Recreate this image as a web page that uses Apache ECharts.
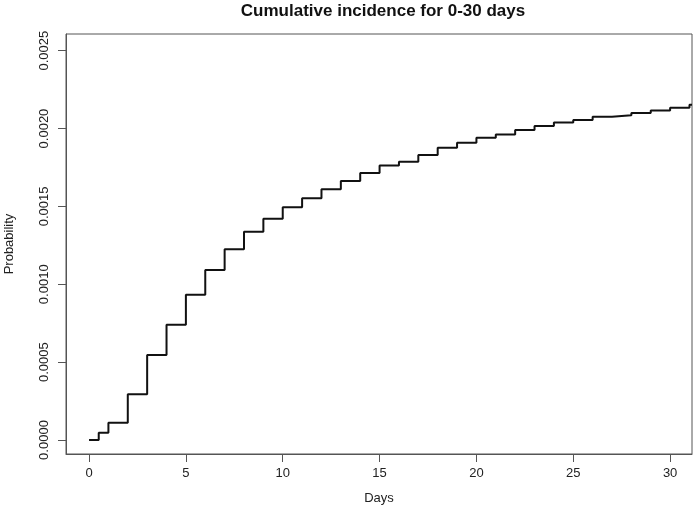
<!DOCTYPE html>
<html>
<head>
<meta charset="utf-8">
<script src="https://cdn.jsdelivr.net/npm/echarts@6/dist/echarts.min.js"></script>
<style>
  html, body { margin: 0; padding: 0; background: #fff; }
  #chart { width: 695px; height: 510px; }
</style>
</head>
<body>
<div id="chart"></div>
<script>
// step times (days) and cumulative incidence after each jump
const days = [0, 0.5, 1, 2, 3, 4, 5, 6, 7, 8, 9, 10, 11, 12, 13, 14, 15, 16,
  17, 18, 19, 20, 21, 22, 23, 24, 25, 26, 27, 28, 29, 30, 31]
const incidence = [0, 0.000047, 0.000111, 0.000293, 0.000546, 0.00074, 0.000933,
  0.001092, 0.001225, 0.001338, 0.001421, 0.001494, 0.001552, 0.00161, 0.001663,
  0.001715, 0.001762, 0.001787, 0.00183, 0.001877, 0.001909, 0.001941, 0.001961,
  0.001991, 0.002016, 0.002038, 0.002055, 0.002076, 0.002085, 0.0021, 0.002115,
  0.002134, 0.002153]
const xTicks = [0, 5, 10, 15, 20, 25, 30]
const yTicks = [0, 0.0005, 0.001, 0.0015, 0.002, 0.0025]

const xMin = -1.19, xMax = 31.13
const yMin = -0.0000899, yMax = 0.002607

const font = 'Liberation Sans, Arial, sans-serif'
const axisColor = '#555'

const points = days.map((d, i) => [d, incidence[i]])
// carry the last level out to the plot edge
points.push([xMax, incidence[incidence.length - 1]])

const chart = echarts.init(document.getElementById('chart'), null, {renderer: 'canvas'})
chart.setOption({
  animation: false,
  backgroundColor: '#fff',
  title: {
    text: 'Cumulative incidence for 0-30 days',
    left: 378,
    top: -2,
    textAlign: 'center',
    textStyle: {fontFamily: font, fontSize: 17, fontWeight: 'bold', color: '#111'},
  },
  grid: {
    left: 66, right: 3, top: 34, bottom: 56,
    outerBoundsMode: 'none',
    containLabel: false,
    show: true,
    borderColor: axisColor,
    borderWidth: 1,
  },
  xAxis: {
    type: 'value',
    min: xMin,
    max: xMax,
    name: 'Days',
    nameLocation: 'middle',
    nameGap: 38,
    nameTextStyle: {fontFamily: font, fontSize: 13, color: '#222'},
    axisLine: {show: true, onZero: false, lineStyle: {color: axisColor}},
    axisTick: {show: true, length: 8, customValues: xTicks, lineStyle: {color: axisColor}},
    axisLabel: {customValues: xTicks, margin: 13, fontFamily: font, fontSize: 13, color: '#222'},
    splitLine: {show: false},
  },
  yAxis: {
    type: 'value',
    min: yMin,
    max: yMax,
    name: 'Probability',
    nameLocation: 'middle',
    nameGap: 50,
    nameRotate: 90,
    nameTextStyle: {fontFamily: font, fontSize: 13, color: '#222'},
    axisLine: {show: true, onZero: false, lineStyle: {color: axisColor}},
    axisTick: {show: true, length: 8, customValues: yTicks, lineStyle: {color: axisColor}},
    axisLabel: {
      customValues: yTicks,
      rotate: 90,
      align: 'center',
      verticalAlign: 'bottom',
      margin: 15,
      fontFamily: font,
      fontSize: 13,
      color: '#222',
      formatter: v => v.toFixed(4),
    },
    splitLine: {show: false},
  },
  series: [{
    type: 'line',
    step: 'end',
    symbol: 'none',
    data: points,
    lineStyle: {color: '#111', width: 2},
  }],
})
</script>
</body>
</html>
